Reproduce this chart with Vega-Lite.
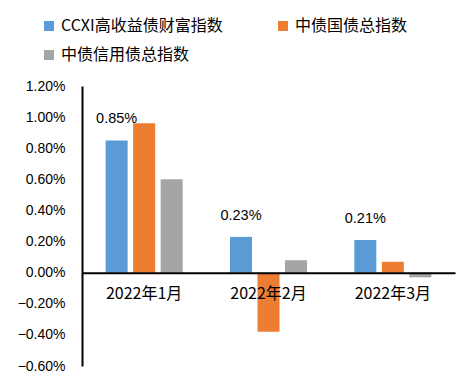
{
  "$schema": "https://vega.github.io/schema/vega-lite/v6.json",
  "width": 373,
  "height": 280,
  "autosize": {"type": "none"},
  "padding": {"left": 82, "top": 86, "right": 17, "bottom": 23},
  "config": {
    "view": {"stroke": null},
    "font": "Liberation Sans",
    "axis": {"labelOverlap": false},
    "axisY": {"labelOverlap": false},
    "axisQuantitative": {"labelOverlap": false}
  },
  "data": {
    "values": [
      {"month": "2022年1月", "series": "CCXI高收益债财富指数", "value": 0.0085},
      {"month": "2022年1月", "series": "中债国债总指数", "value": 0.0096},
      {"month": "2022年1月", "series": "中债信用债总指数", "value": 0.0060},
      {"month": "2022年2月", "series": "CCXI高收益债财富指数", "value": 0.0023},
      {"month": "2022年2月", "series": "中债国债总指数", "value": -0.0038},
      {"month": "2022年2月", "series": "中债信用债总指数", "value": 0.0008},
      {"month": "2022年3月", "series": "CCXI高收益债财富指数", "value": 0.0021},
      {"month": "2022年3月", "series": "中债国债总指数", "value": 0.0007},
      {"month": "2022年3月", "series": "中债信用债总指数", "value": -0.0003}
    ]
  },
  "encoding": {
    "x": {
      "field": "month", "type": "nominal", "sort": null,
      "scale": {"paddingInner": 0, "paddingOuter": 0},
      "axis": {
        "title": null, "orient": "bottom", "offset": -93.3, "domain": true,
        "domainColor": "black", "domainWidth": 2, "ticks": false,
        "labelAngle": 0, "labelPadding": 13, "labelFontSize": 16, "labelFont": "Noto Sans CJK SC",
        "labelColor": "black", "zindex": 1
      }
    },
    "xOffset": {
      "field": "series", "type": "nominal",
      "sort": ["CCXI高收益债财富指数", "中债国债总指数", "中债信用债总指数"],
      "scale": {"paddingInner": 0.2, "paddingOuter": 0.86}
    },
    "y": {
      "field": "value", "type": "quantitative",
      "scale": {"domain": [-0.006, 0.012], "nice": false, "zero": false},
      "axis": {
        "title": null, "format": ".2%", "grid": false, "ticks": false,
        "values": [-0.006, -0.004, -0.002, 0, 0.002, 0.004, 0.006, 0.008, 0.01, 0.012],
        "labelOverlap": false, "labelFlush": false,
        "domainColor": "black", "domainWidth": 2, "labelPadding": 17,
        "labelFontSize": 14, "labelColor": "black"
      }
    }
  },
  "layer": [
    {
      "mark": {"type": "bar"},
      "encoding": {
        "color": {
          "field": "series", "type": "nominal",
          "scale": {
            "domain": ["CCXI高收益债财富指数", "中债国债总指数", "中债信用债总指数"],
            "range": ["#5B9BD5", "#ED7D31", "#A5A5A5"]
          },
          "legend": {
            "title": null, "orient": "none", "legendX": -41, "legendY": -68,
            "direction": "horizontal", "columns": 2, "symbolType": "square", "symbolSize": 100,
            "symbolStrokeWidth": 0, "labelFontSize": 16, "labelFont": "Noto Sans CJK SC",
            "labelColor": "black", "labelOffset": 4, "columnPadding": 52, "rowPadding": 13,
            "labelLimit": 300
          }
        }
      }
    },
    {
      "transform": [{"filter": "datum.series === 'CCXI高收益债财富指数'"}],
      "mark": {"type": "text", "dy": -21, "fontSize": 14.5, "color": "black"},
      "encoding": {
        "text": {"field": "value", "type": "quantitative", "format": ".2%"}
      }
    }
  ]
}
